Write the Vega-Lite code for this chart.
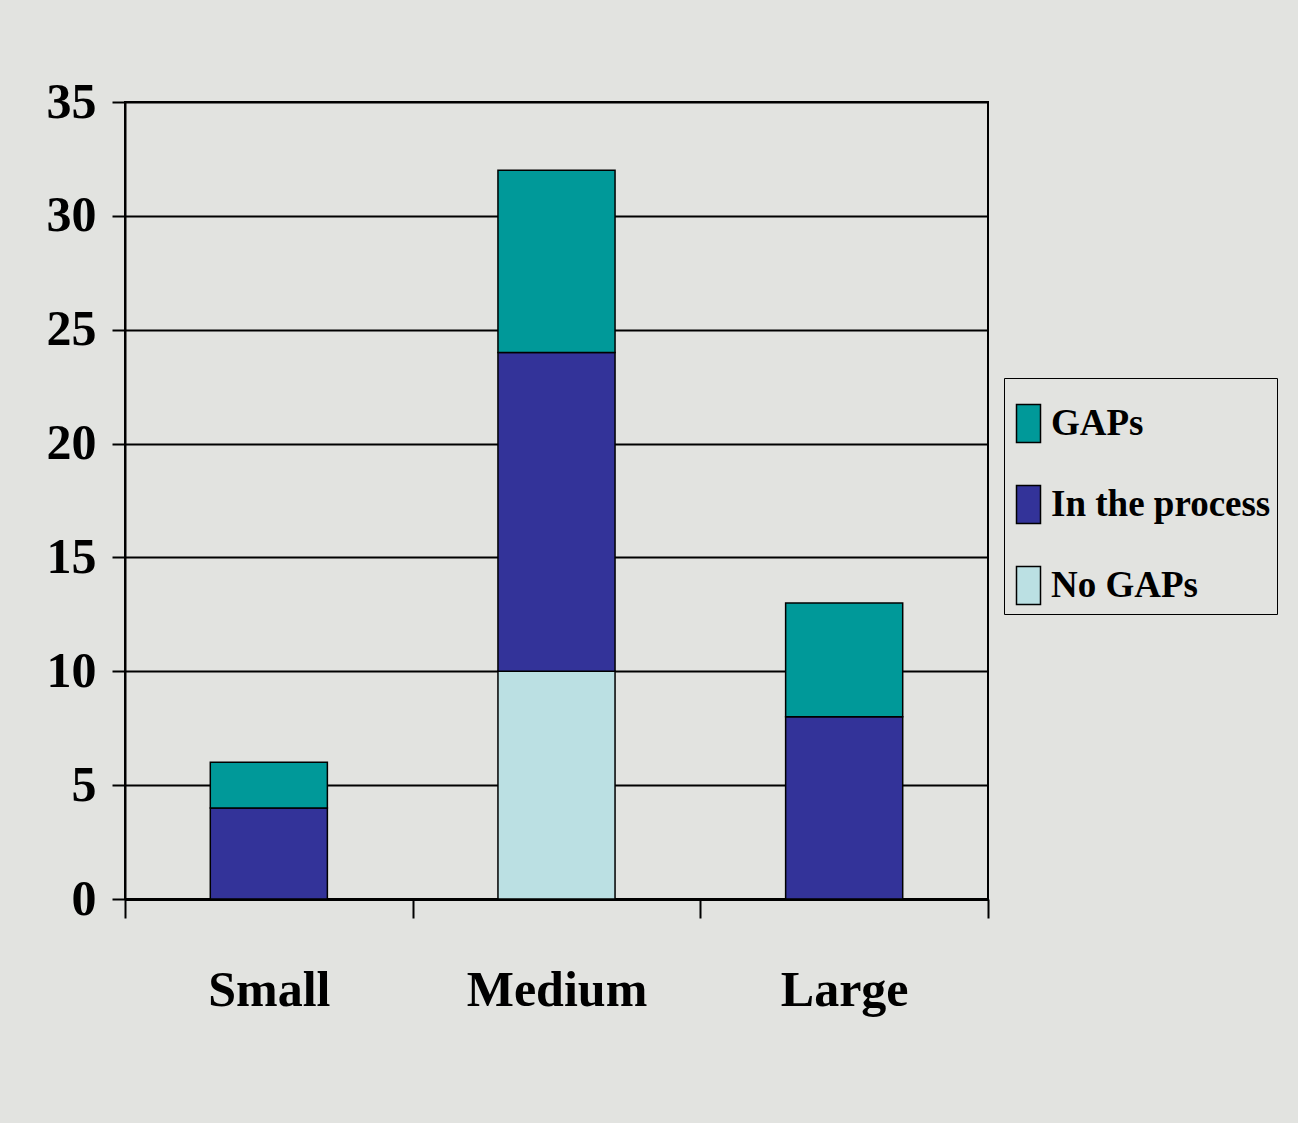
{
  "$schema": "https://vega.github.io/schema/vega-lite/v6.json",
  "width": 863,
  "height": 797,
  "autosize": "none",
  "padding": {"left": 125, "top": 102, "right": 310, "bottom": 224},
  "background": "#e2e3e0",
  "config": {
    "font": "Liberation Serif",
    "view": {"stroke": "black", "strokeWidth": 2}
  },
  "data": {
    "values": [
      {"size": "Small", "series": "In the process", "count": 4},
      {"size": "Small", "series": "GAPs", "count": 2},
      {"size": "Medium", "series": "No GAPs", "count": 10},
      {"size": "Medium", "series": "In the process", "count": 14},
      {"size": "Medium", "series": "GAPs", "count": 8},
      {"size": "Large", "series": "In the process", "count": 8},
      {"size": "Large", "series": "GAPs", "count": 5}
    ]
  },
  "mark": {"type": "bar", "width": {"band": 0.407}, "stroke": "black", "strokeWidth": 1.5},
  "encoding": {
    "x": {
      "field": "size",
      "type": "nominal",
      "sort": ["Small", "Medium", "Large"],
      "scale": {"paddingInner": 0, "paddingOuter": 0},
      "axis": {
        "title": null,
        "labelAngle": 0,
        "grid": false,
        "domainColor": "black",
        "domainWidth": 3,
        "tickBand": "extent",
        "tickColor": "black",
        "tickSize": 19,
        "tickWidth": 2,
        "labelFontSize": 50,
        "labelFontWeight": "bold",
        "labelColor": "black",
        "labelPadding": 47,
        "labelLimit": 0
      }
    },
    "y": {
      "field": "count",
      "type": "quantitative",
      "stack": "zero",
      "scale": {"domain": [0, 35], "nice": false},
      "axis": {
        "title": null,
        "values": [0, 5, 10, 15, 20, 25, 30, 35],
        "grid": true,
        "gridColor": "black",
        "gridWidth": 2,
        "gridOpacity": 1,
        "domainColor": "black",
        "domainWidth": 2,
        "tickColor": "black",
        "tickSize": 13,
        "tickWidth": 2,
        "labelFontSize": 50,
        "labelFontWeight": "bold",
        "labelColor": "black",
        "labelPadding": 16
      }
    },
    "color": {
      "field": "series",
      "type": "nominal",
      "scale": {
        "domain": ["GAPs", "In the process", "No GAPs"],
        "range": ["#009999", "#333399", "#bbe0e3"]
      },
      "legend": {
        "title": " ",
        "titleFontSize": 15,
        "titlePadding": 6,
        "orient": "none",
        "legendX": 879,
        "legendY": 276,
        "strokeColor": "black",
        "padding": 6,
        "rowPadding": 36,
        "symbolType": "M-1,-1.58H1V1.58H-1Z",
        "symbolSize": 576,
        "symbolStrokeColor": "black",
        "symbolStrokeWidth": 1.5,
        "symbolOpacity": 1,
        "labelFontSize": 37,
        "labelFontWeight": "bold",
        "labelColor": "black",
        "labelOffset": 4,
        "labelLimit": 0
      }
    },
    "order": {"field": "series", "sort": "descending"}
  }
}
